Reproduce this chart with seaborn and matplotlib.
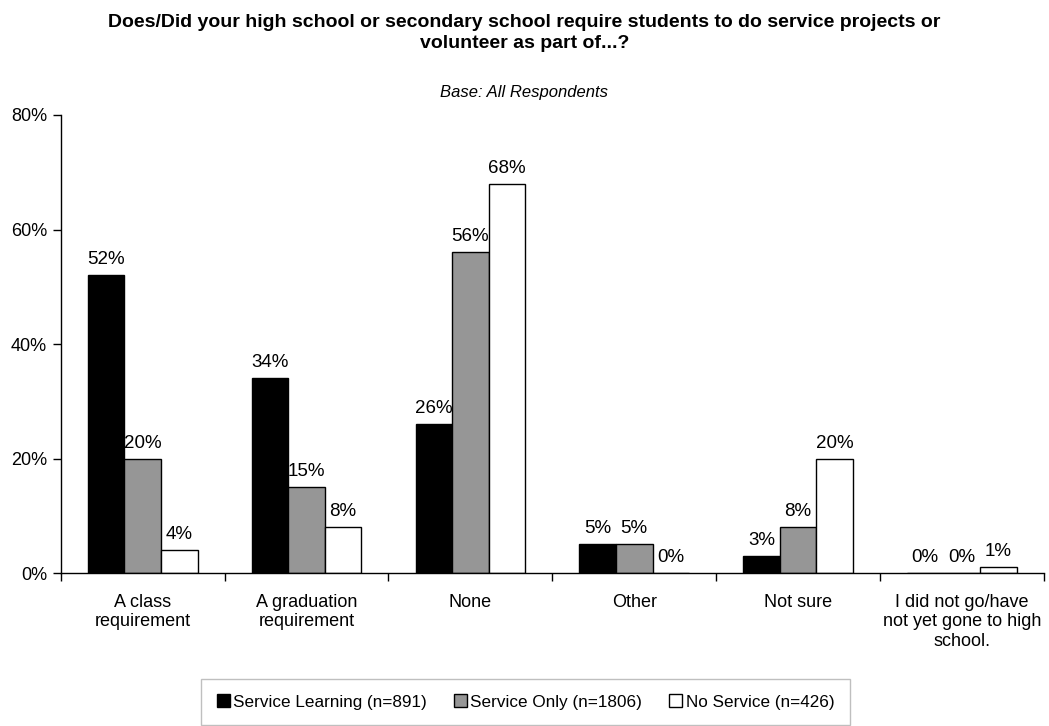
import matplotlib
matplotlib.use("Agg")
import matplotlib.pyplot as plt
import seaborn as sns
import pandas as pd
from matplotlib.ticker import FixedLocator, FuncFormatter

categories = ["A class\nrequirement", "A graduation\nrequirement", "None", "Other",
              "Not sure", "I did not go/have\nnot yet gone to high\nschool."]
series_names = ["Service Learning (n=891)", "Service Only (n=1806)", "No Service (n=426)"]
service_learning = [52, 34, 26, 5, 3, 0]
service_only = [20, 15, 56, 5, 8, 0]
no_service = [4, 8, 68, 0, 20, 1]

df = pd.DataFrame({
    "category": categories * 3,
    "group": [series_names[0]] * 6 + [series_names[1]] * 6 + [series_names[2]] * 6,
    "value": service_learning + service_only + no_service,
})

sns.set_theme(style="white")
plt.rcParams["font.family"] = ["Liberation Sans", "DejaVu Sans"]
plt.rcParams["text.color"] = "black"
plt.rcParams["axes.labelcolor"] = "black"
plt.rcParams["xtick.color"] = "black"
plt.rcParams["ytick.color"] = "black"

fig = plt.figure(figsize=(10.49, 7.26), dpi=100)
ax = fig.add_axes([0.058, 0.2107, 0.937, 0.6309])

palette = {series_names[0]: "#000000", series_names[1]: "#969696", series_names[2]: "#ffffff"}
sns.barplot(data=df, x="category", y="value", hue="group", palette=palette,
            order=categories, hue_order=series_names, width=0.67, gap=0,
            edgecolor="black", linewidth=1.0, saturation=1, ax=ax, legend=True)

for cont in ax.containers:
    ax.bar_label(cont, fmt="%d%%", padding=5, fontsize=13.5, color="black")

ax.set_ylim(0, 80)
ax.set_xlim(-0.5, 5.5)
ax.set_yticks([0, 20, 40, 60, 80])
ax.yaxis.set_major_formatter(FuncFormatter(lambda v, p: f"{int(v)}%"))
ax.tick_params(axis="y", which="major", left=True, length=6, width=1, color="black",
               labelsize=13, labelcolor="black", pad=4, direction="out")
ax.tick_params(axis="x", which="major", bottom=False, labelsize=13, labelcolor="black", pad=9)
ax.xaxis.set_minor_locator(FixedLocator([i - 0.5 for i in range(7)]))
ax.tick_params(axis="x", which="minor", bottom=True, length=6, width=1, color="black",
               direction="out")
ax.set_xlabel("")
ax.set_ylabel("")
for s in ["top", "right"]:
    ax.spines[s].set_visible(False)
for s in ["left", "bottom"]:
    ax.spines[s].set_color("black")
    ax.spines[s].set_linewidth(1)

handles, labels = ax.get_legend_handles_labels()
ax.get_legend().remove()
leg = fig.legend(handles, labels, loc="upper center", bbox_to_anchor=(0.501, 0.0647),
                 ncol=3, frameon=True, fontsize=12.3, handlelength=0.75, handleheight=0.75,
                 handletextpad=0.2, columnspacing=1.6, borderpad=0.9, fancybox=False,
                 borderaxespad=0)
leg.get_frame().set_edgecolor("#b0b0b0")
leg.get_frame().set_linewidth(1)

fig.text(0.5, 0.981, "Does/Did your high school or secondary school require students to do service projects or\nvolunteer as part of...?",
         ha="center", va="top", fontsize=14, fontweight="bold", linespacing=1.35)
fig.text(0.5, 0.872, "Base: All Respondents", ha="center", va="center",
         fontsize=12, style="italic")

fig.savefig("out.png", dpi=100)
